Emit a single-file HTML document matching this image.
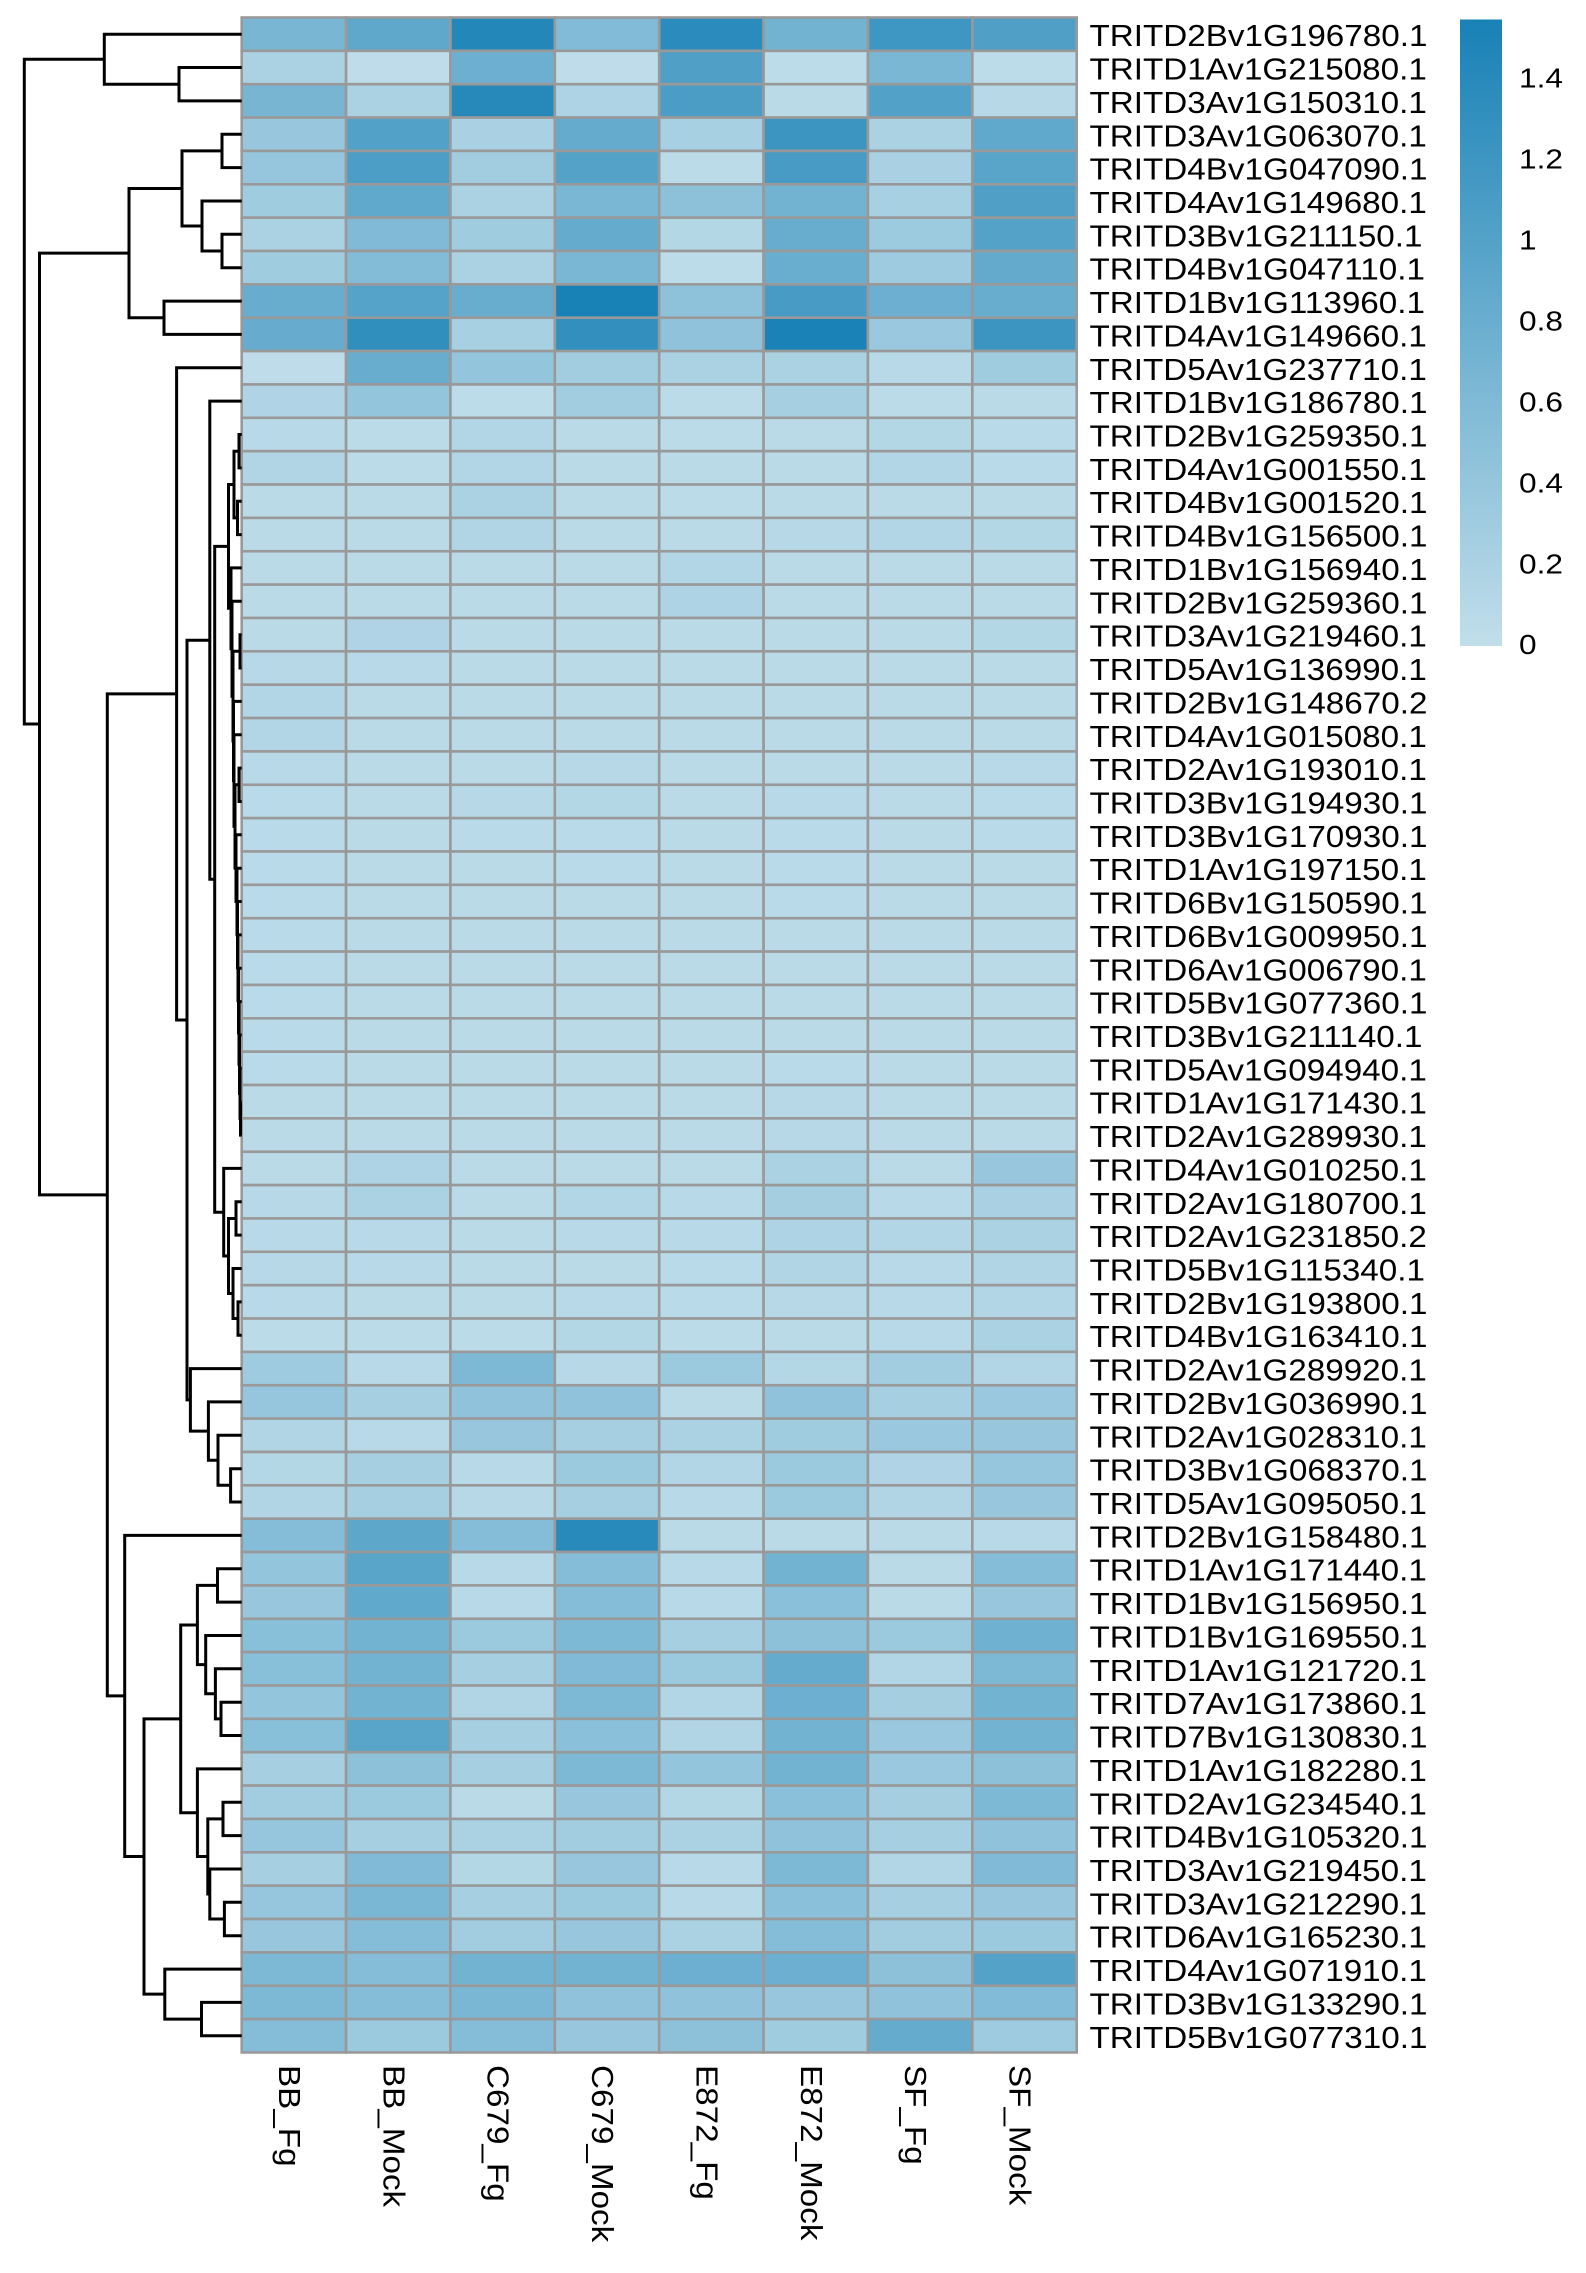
<!DOCTYPE html>
<html>
<head>
<meta charset="utf-8">
<style>
html,body{margin:0;padding:0;background:#fff;}
svg{display:block;}
text{font-family:"Liberation Sans",Arial,sans-serif;fill:#000;}
</style>
</head>
<body>
<svg id="chart" width="1586" height="2273" viewBox="0 0 1586 2273" xmlns="http://www.w3.org/2000/svg">
<defs>
<linearGradient id="cb" x1="0" y1="0" x2="0" y2="1">
<stop offset="0" stop-color="rgb(24,129,182)"/>
<stop offset="1" stop-color="rgb(193,222,234)"/>
</linearGradient>
</defs>
<rect x="0" y="0" width="1586" height="2273" fill="#fff"/>
<g id="cells"></g>
<path id="dendro" d="" fill="none" stroke="#000" stroke-width="3" stroke-linejoin="miter"/>

<g transform="translate(1089.5,0) scale(1.072,1)" font-size="31">
<text>
<tspan x="0" y="46.2">TRITD2Bv1G196780.1</tspan>
<tspan x="0" dy="33.36">TRITD1Av1G215080.1</tspan>
<tspan x="0" dy="33.36">TRITD3Av1G150310.1</tspan>
<tspan x="0" dy="33.36">TRITD3Av1G063070.1</tspan>
<tspan x="0" dy="33.36">TRITD4Bv1G047090.1</tspan>
<tspan x="0" dy="33.36">TRITD4Av1G149680.1</tspan>
<tspan x="0" dy="33.36">TRITD3Bv1G211150.1</tspan>
<tspan x="0" dy="33.36">TRITD4Bv1G047110.1</tspan>
<tspan x="0" dy="33.36">TRITD1Bv1G113960.1</tspan>
<tspan x="0" dy="33.36">TRITD4Av1G149660.1</tspan>
<tspan x="0" dy="33.36">TRITD5Av1G237710.1</tspan>
<tspan x="0" dy="33.36">TRITD1Bv1G186780.1</tspan>
<tspan x="0" dy="33.36">TRITD2Bv1G259350.1</tspan>
<tspan x="0" dy="33.36">TRITD4Av1G001550.1</tspan>
<tspan x="0" dy="33.36">TRITD4Bv1G001520.1</tspan>
<tspan x="0" dy="33.36">TRITD4Bv1G156500.1</tspan>
<tspan x="0" dy="33.36">TRITD1Bv1G156940.1</tspan>
<tspan x="0" dy="33.36">TRITD2Bv1G259360.1</tspan>
<tspan x="0" dy="33.36">TRITD3Av1G219460.1</tspan>
<tspan x="0" dy="33.36">TRITD5Av1G136990.1</tspan>
<tspan x="0" dy="33.36">TRITD2Bv1G148670.2</tspan>
<tspan x="0" dy="33.36">TRITD4Av1G015080.1</tspan>
<tspan x="0" dy="33.36">TRITD2Av1G193010.1</tspan>
<tspan x="0" dy="33.36">TRITD3Bv1G194930.1</tspan>
<tspan x="0" dy="33.36">TRITD3Bv1G170930.1</tspan>
<tspan x="0" dy="33.36">TRITD1Av1G197150.1</tspan>
<tspan x="0" dy="33.36">TRITD6Bv1G150590.1</tspan>
<tspan x="0" dy="33.36">TRITD6Bv1G009950.1</tspan>
<tspan x="0" dy="33.36">TRITD6Av1G006790.1</tspan>
<tspan x="0" dy="33.36">TRITD5Bv1G077360.1</tspan>
<tspan x="0" dy="33.36">TRITD3Bv1G211140.1</tspan>
<tspan x="0" dy="33.36">TRITD5Av1G094940.1</tspan>
<tspan x="0" dy="33.36">TRITD1Av1G171430.1</tspan>
<tspan x="0" dy="33.36">TRITD2Av1G289930.1</tspan>
<tspan x="0" dy="33.36">TRITD4Av1G010250.1</tspan>
<tspan x="0" dy="33.36">TRITD2Av1G180700.1</tspan>
<tspan x="0" dy="33.36">TRITD2Av1G231850.2</tspan>
<tspan x="0" dy="33.36">TRITD5Bv1G115340.1</tspan>
<tspan x="0" dy="33.36">TRITD2Bv1G193800.1</tspan>
<tspan x="0" dy="33.36">TRITD4Bv1G163410.1</tspan>
<tspan x="0" dy="33.36">TRITD2Av1G289920.1</tspan>
<tspan x="0" dy="33.36">TRITD2Bv1G036990.1</tspan>
<tspan x="0" dy="33.36">TRITD2Av1G028310.1</tspan>
<tspan x="0" dy="33.36">TRITD3Bv1G068370.1</tspan>
<tspan x="0" dy="33.36">TRITD5Av1G095050.1</tspan>
<tspan x="0" dy="33.36">TRITD2Bv1G158480.1</tspan>
<tspan x="0" dy="33.36">TRITD1Av1G171440.1</tspan>
<tspan x="0" dy="33.36">TRITD1Bv1G156950.1</tspan>
<tspan x="0" dy="33.36">TRITD1Bv1G169550.1</tspan>
<tspan x="0" dy="33.36">TRITD1Av1G121720.1</tspan>
<tspan x="0" dy="33.36">TRITD7Av1G173860.1</tspan>
<tspan x="0" dy="33.36">TRITD7Bv1G130830.1</tspan>
<tspan x="0" dy="33.36">TRITD1Av1G182280.1</tspan>
<tspan x="0" dy="33.36">TRITD2Av1G234540.1</tspan>
<tspan x="0" dy="33.36">TRITD4Bv1G105320.1</tspan>
<tspan x="0" dy="33.36">TRITD3Av1G219450.1</tspan>
<tspan x="0" dy="33.36">TRITD3Av1G212290.1</tspan>
<tspan x="0" dy="33.36">TRITD6Av1G165230.1</tspan>
<tspan x="0" dy="33.36">TRITD4Av1G071910.1</tspan>
<tspan x="0" dy="33.36">TRITD3Bv1G133290.1</tspan>
<tspan x="0" dy="33.36">TRITD5Bv1G077310.1</tspan>
</text>
</g>

<g font-size="31">
<text transform="translate(278.9,2065) rotate(90) scale(1.072,1)">BB_Fg</text>
<text transform="translate(383.3,2065) rotate(90) scale(1.072,1)">BB_Mock</text>
<text transform="translate(487.6,2065) rotate(90) scale(1.072,1)">C679_Fg</text>
<text transform="translate(592.0,2065) rotate(90) scale(1.072,1)">C679_Mock</text>
<text transform="translate(696.4,2065) rotate(90) scale(1.072,1)">E872_Fg</text>
<text transform="translate(800.8,2065) rotate(90) scale(1.072,1)">E872_Mock</text>
<text transform="translate(905.2,2065) rotate(90) scale(1.072,1)">SF_Fg</text>
<text transform="translate(1009.5,2065) rotate(90) scale(1.072,1)">SF_Mock</text>
</g>

<rect x="1460" y="19.5" width="42" height="626.5" fill="url(#cb)"/>
<g transform="translate(1519,0) scale(1.15,1)" font-size="27.5">
<text x="0" y="87.5">1.4</text>
<text x="0" y="168.5">1.2</text>
<text x="0" y="249.5">1</text>
<text x="0" y="330.5">0.8</text>
<text x="0" y="411.5">0.6</text>
<text x="0" y="492.5">0.4</text>
<text x="0" y="573.3">0.2</text>
<text x="0" y="654">0</text>
</g>
</svg>
<script>
(function(){
var V=[
[0.67,0.9,1.45,0.58,1.38,0.72,1.2,1.05],
[0.2,0.03,0.78,0.03,1.05,0.04,0.65,0.04],
[0.68,0.2,1.42,0.18,1.08,0.06,1.02,0.1],
[0.38,1.02,0.22,0.85,0.24,1.22,0.2,0.88],
[0.4,1.06,0.28,1.0,0.05,1.12,0.22,0.95],
[0.3,0.88,0.2,0.65,0.48,0.72,0.24,1.05],
[0.2,0.6,0.3,0.85,0.12,0.82,0.34,1.0],
[0.3,0.57,0.2,0.65,0.04,0.8,0.32,0.86],
[0.82,0.98,0.82,1.55,0.47,1.12,0.78,0.82],
[0.83,1.32,0.24,1.3,0.45,1.53,0.36,1.22],
[0.03,0.82,0.42,0.28,0.2,0.2,0.08,0.3],
[0.16,0.42,0.04,0.28,0.05,0.25,0.05,0.06],
[0.08,0.05,0.14,0.06,0.05,0.06,0.12,0.07],
[0.15,0.05,0.14,0.06,0.06,0.06,0.13,0.07],
[0.06,0.06,0.2,0.06,0.05,0.06,0.06,0.06],
[0.06,0.06,0.15,0.06,0.06,0.09,0.13,0.12],
[0.06,0.06,0.06,0.06,0.14,0.06,0.06,0.06],
[0.06,0.06,0.06,0.06,0.18,0.06,0.06,0.06],
[0.06,0.16,0.06,0.06,0.06,0.06,0.06,0.12],
[0.1,0.08,0.06,0.06,0.06,0.06,0.06,0.06],
[0.13,0.06,0.06,0.06,0.06,0.06,0.06,0.06],
[0.14,0.06,0.06,0.06,0.06,0.06,0.06,0.06],
[0.08,0.06,0.06,0.1,0.06,0.06,0.06,0.08],
[0.07,0.06,0.09,0.12,0.06,0.08,0.06,0.07],
[0.07,0.06,0.07,0.07,0.06,0.07,0.06,0.07],
[0.07,0.06,0.06,0.07,0.06,0.07,0.06,0.06],
[0.07,0.06,0.06,0.06,0.06,0.07,0.06,0.06],
[0.07,0.06,0.06,0.06,0.06,0.06,0.06,0.06],
[0.07,0.06,0.06,0.06,0.06,0.06,0.06,0.06],
[0.07,0.06,0.06,0.06,0.06,0.06,0.06,0.06],
[0.07,0.06,0.06,0.06,0.06,0.06,0.06,0.06],
[0.07,0.06,0.06,0.06,0.06,0.07,0.06,0.06],
[0.06,0.06,0.06,0.06,0.06,0.1,0.06,0.06],
[0.06,0.06,0.06,0.06,0.06,0.1,0.06,0.06],
[0.06,0.18,0.06,0.06,0.06,0.2,0.06,0.38],
[0.1,0.2,0.06,0.13,0.08,0.26,0.08,0.22],
[0.08,0.08,0.06,0.08,0.08,0.18,0.13,0.2],
[0.1,0.08,0.06,0.06,0.07,0.15,0.08,0.15],
[0.08,0.06,0.06,0.08,0.07,0.1,0.08,0.14],
[0.05,0.05,0.05,0.12,0.05,0.06,0.08,0.2],
[0.32,0.08,0.62,0.1,0.35,0.12,0.28,0.13],
[0.4,0.25,0.45,0.45,0.06,0.45,0.25,0.36],
[0.15,0.08,0.38,0.25,0.2,0.3,0.36,0.38],
[0.12,0.25,0.08,0.35,0.14,0.35,0.16,0.4],
[0.15,0.25,0.1,0.25,0.08,0.35,0.15,0.38],
[0.55,0.92,0.55,1.4,0.06,0.06,0.06,0.08],
[0.42,0.95,0.08,0.55,0.08,0.72,0.06,0.55],
[0.38,0.88,0.08,0.55,0.08,0.5,0.06,0.38],
[0.52,0.72,0.35,0.62,0.25,0.48,0.35,0.75],
[0.52,0.72,0.25,0.6,0.35,0.85,0.14,0.62],
[0.42,0.72,0.15,0.62,0.14,0.78,0.26,0.72],
[0.52,0.95,0.25,0.5,0.15,0.72,0.36,0.72],
[0.25,0.48,0.25,0.62,0.42,0.72,0.36,0.48],
[0.28,0.35,0.06,0.38,0.12,0.5,0.26,0.62],
[0.4,0.25,0.2,0.28,0.2,0.45,0.25,0.45],
[0.25,0.6,0.12,0.38,0.08,0.62,0.14,0.6],
[0.4,0.65,0.25,0.35,0.08,0.5,0.25,0.38],
[0.38,0.55,0.28,0.38,0.2,0.55,0.28,0.35],
[0.62,0.55,0.72,0.72,0.78,0.78,0.48,1.0],
[0.62,0.55,0.65,0.45,0.45,0.38,0.45,0.58],
[0.55,0.35,0.55,0.38,0.48,0.3,0.85,0.32]
];
var X0=241.7,CW=104.375,Y0=17.5,RH=33.36,VMAX=1.55;
var c0=[193,222,234],c1=[24,129,182];
function col(v){var t=Math.max(0,Math.min(1,v/VMAX));
return 'rgb('+Math.round(c0[0]+(c1[0]-c0[0])*t)+','+Math.round(c0[1]+(c1[1]-c0[1])*t)+','+Math.round(c0[2]+(c1[2]-c0[2])*t)+')';}
var s='';
for(var r=0;r<V.length;r++){for(var c=0;c<8;c++){
s+='<rect x="'+(X0+c*CW).toFixed(2)+'" y="'+(Y0+r*RH).toFixed(2)+'" width="'+CW+'" height="'+RH+'" fill="'+col(V[r][c])+'" stroke="#999999" stroke-width="2.6"/>';
}}
document.getElementById('cells').innerHTML=s;

var LX=241.7;
function ly(n){return 0.82+33.36*n;}
var d='';
function draw(n){
 if(typeof n==='number'){return {x:LX,y:ly(n)};}
 var h=n[0],L=draw(n[1]),R=draw(n[2]);
 d+='M'+L.x.toFixed(1)+' '+L.y.toFixed(1)+'H'+h+'V'+R.y.toFixed(1)+'H'+R.x.toFixed(1);
 return {x:h,y:(L.y+R.y)/2};
}
var A=[104.3,1,[179,2,3]];
var B=[129,[182,[222,4,5],[202,6,[222,7,8]]],[164,9,10]];
var X1=[234,[239,13,14],[237.5,15,16]];
var X2=[231,17,[232,18,[233,[240,19,20],[233.5,21,[234,22,[235,[239,23,24],[236,25,[237,26,[237.5,27,[238,28,[238.5,29,[239,30,[239.5,31,[240,32,[240.5,33,34]]]]]]]]]]]]]]];
var DTop=[228.5,X1,X2];
var DBot=[223.7,35,[228.5,[236,36,37],[233,38,[238,39,40]]]];
var Dense=[214.7,DTop,DBot];
var Ca=[209.8,12,Dense];
var Cb=[190.4,41,[208.4,42,[218,43,[230.6,44,45]]]];
var C1=[176.6,11,[187,Ca,Cb]];
var C2c=[180.7,[197.4,[217.5,47,48],[205.7,49,[215.4,50,[221,51,52]]]],[197.4,53,[207.8,[223,54,55],[209.8,56,[224.4,57,58]]]]];
var C2=[124.7,46,[144,C2c,[164.8,59,[201.5,60,61]]]];
var E=[107.3,C1,C2];
var D=[39.5,B,E];
var root=[24.3,A,D];
draw(root);
document.getElementById('dendro').setAttribute('d',d);
})();
</script>
</body>
</html>
